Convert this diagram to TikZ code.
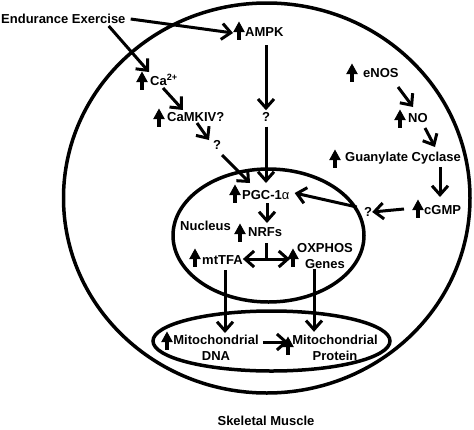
\documentclass[tikz,border=0pt]{standalone}
\usepackage{fontspec}
\setmainfont{Liberation Sans}
\usetikzlibrary{arrows.meta,calc}
\begin{document}
\begin{tikzpicture}[x=1pt,y=-1pt,
  lbl/.style={font=\fontsize{13}{16}\selectfont\bfseries, inner sep=0pt},
  conn/.style={line width=3pt, -{Straight Barb[length=9pt,width=16pt]}},
  plain/.style={line width=3pt},
  membrane/.style={line width=3.5pt},
  uparr/.pic={\fill (-2,0) rectangle (2,-9);
              \fill (-5.8,-8) -- (5.8,-8) -- (0,-18.5) -- cycle;}]
\useasboundingbox (0,0) rectangle (474,429);

% membranes
\draw[membrane] (266.75,198) ellipse [x radius=203.25pt, y radius=195pt];
\draw[membrane] (268.5,235.5) ellipse [x radius=95.5pt, y radius=66.5pt];
\draw[membrane] (271.5,341) ellipse [x radius=118.5pt, y radius=30pt];

% labels
\node[lbl, anchor=west] (ee) at (1,19) {Endurance Exercise};
\node[lbl, anchor=west] (ampk) at (245,32) {AMPK};
\pic at (239,40) {uparr};
\node[lbl, anchor=west] (ca) at (150,80) {Ca\textsuperscript{2+}};
\pic at (142,90) {uparr};
\node[lbl, anchor=west] (camk) at (167,117) {CaMKIV?};
\pic at (159,127) {uparr};
\node[lbl] (q1) at (217,145) {?};
\node[lbl] (q2) at (266,117) {?};
\node[lbl, anchor=west] (pgc) at (242,195) {PGC-1{\mdseries α}};
\pic at (235,203) {uparr};
\node[lbl, anchor=west] (nrf) at (248,232) {NRFs};
\pic at (240,242) {uparr};
\node[lbl, anchor=west] (nuc) at (180,226) {Nucleus};
\node[lbl, anchor=west] (mttfa) at (202,260) {mtTFA};
\pic at (195,267) {uparr};
\node[lbl, align=center] (ox) at (325,256) {OXPHOS\\Genes};
\pic at (293,267) {uparr};
\node[lbl, align=center] (mdna) at (216,348) {Mitochondrial\\DNA};
\pic at (167,350) {uparr};
\node[lbl, align=center] (mprot) at (335,348) {Mitochondrial\\Protein};
\pic at (288,355) {uparr};
\node[lbl] (sm) at (266,421) {Skeletal Muscle};
\node[lbl, anchor=west] (enos) at (363,73) {eNOS};
\pic at (352,82) {uparr};
\node[lbl, anchor=west] (no) at (408,118) {NO};
\pic at (400,128) {uparr};
\node[lbl, anchor=west] (gc) at (345,158) {Guanylate Cyclase};
\pic at (335,168) {uparr};
\node[lbl, anchor=west] (cgmp) at (424,210) {cGMP};
\pic at (418,218) {uparr};
\node[lbl] (q3) at (368,212) {?};

% connectors
\draw[conn] ($(ee.east)+(5,0)$) -- ($(ampk.west)+(-12,1)$);
\draw[conn] ($(ee.south east)+(-17,2)$) -- ($(ca.west)+(-1,-8)$);
\draw[conn] ($(ca.west)+(13,8)$) -- ($(camk.west)+(16,-7)$);
\draw[conn] ($(camk.west)+(30,6)$) -- ($(q1.center)+(-8,-5)$);
\draw[conn] ($(q1.center)+(5,10)$) -- ($(pgc.west)+(8,-12)$);
\draw[conn] ($(ampk.west)+(21,13)$) -- ($(q2.north)+(0,-2)$);
\draw[conn] ($(q2.south)+(0,5)$) -- ($(pgc.west)+(24,-12)$);
\draw[conn] ($(pgc.west)+(25,8)$) -- ($(nrf.west)+(19,-9)$);
\draw[plain] ($(nrf.west)+(18,11)$) -- ++(0,16) coordinate (br);
\draw[conn] (br) -- (mttfa.east |- br);
\draw[conn] (br) -- ($(ox.west |- br)+(-7,0)$);
\draw[conn] ($(mttfa.west)+(23,10)$) -- ($(mttfa.west)+(23,73)$);
\draw[conn] ($(ox.south)+(-11,0)$) -- ($(ox.south)+(-11,63)$);
\draw[conn] ($(mdna.east)+(4,-6)$) -- ($(mprot.west)+(-4,-6)$);
\draw[conn] ($(enos.west)+(35,14)$) -- ($(no.west)+(5,-11)$);
\draw[conn] ($(no.west)+(17,10)$) -- ($(gc.west)+(90,-11)$);
\draw[conn] ($(gc.west)+(95,9)$) -- ($(cgmp.west)+(16,-13)$);
\draw[conn] ($(cgmp.west)+(-20,-1)$) -- (q3.east);
\draw[conn] ($(q3.west)+(-7,-5)$) -- ($(pgc.east)+(5,-2)$);
\end{tikzpicture}
\end{document}
